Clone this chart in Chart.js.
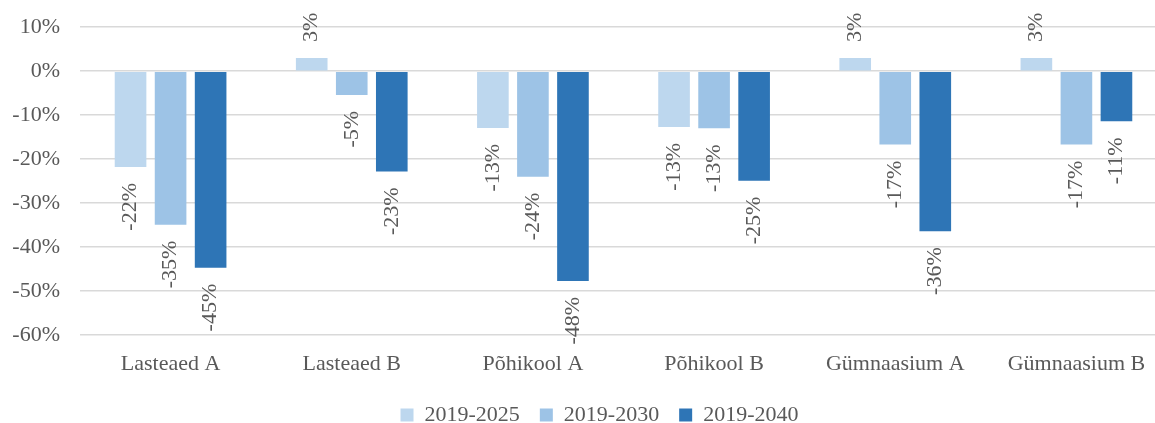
<!DOCTYPE html>
<html>
<head>
<meta charset="utf-8">
<script src="https://cdn.jsdelivr.net/npm/chart.js@4.4.1/dist/chart.umd.min.js"></script>
<style>
  html, body { margin: 0; padding: 0; overflow: hidden; background: #ffffff; }
  #wrap { width: 1155px; height: 423px; overflow: hidden; position: relative; }
  #c { position: absolute; left: 0; top: -6px; }
</style>
</head>
<body>
<div id="wrap"><canvas id="c" width="1167" height="442"></canvas></div>
<script>
const categories = ['Lasteaed A', 'Lasteaed B', 'Põhikool A', 'Põhikool B', 'Gümnaasium A', 'Gümnaasium B'];
const seriesNames = ['2019-2025', '2019-2030', '2019-2040'];
const v2025 = [-21.8, 2.97, -12.9, -12.7, 3.0, 3.0];
const v2030 = [-34.9, -5.4, -24.0, -13.0, -16.7, -16.7];
const v2040 = [-44.7, -22.8, -47.7, -24.9, -36.4, -11.4];
const yTicks = [10, 0, -10, -20, -30, -40, -50, -60];

const FONT = "'Liberation Serif', 'Times New Roman', serif";
const TXT = '#595959';
const colors = ['#BDD7EE', '#9DC3E6', '#2E75B6'];
const seriesValues = [v2025, v2030, v2040];

const dataLabels = {
  id: 'dataLabels',
  afterDatasetsDraw(chart) {
    const ctx = chart.ctx;
    ctx.save();
    ctx.font = '22px ' + FONT;
    ctx.fillStyle = TXT;
    ctx.textBaseline = 'middle';
    chart.data.datasets.forEach((ds, di) => {
      const meta = chart.getDatasetMeta(di);
      meta.data.forEach((el, i) => {
        const v = ds.data[i];
        const txt = Math.round(v) + '%';
        ctx.save();
        if (v < 0) {
          ctx.translate(el.x, el.y + 16);
          ctx.rotate(-Math.PI / 2);
          ctx.textAlign = 'right';
        } else {
          ctx.translate(el.x, el.y - 16);
          ctx.rotate(-Math.PI / 2);
          ctx.textAlign = 'left';
        }
        ctx.fillText(txt, 0, 0);
        ctx.restore();
      });
    });
    ctx.restore();
  }
};

const legendShift = {
  id: 'legendShift',
  afterLayout(chart) {
    if (chart.legend) {
      chart.legend.left += 16;
      chart.legend.right += 16;
    }
  }
};

new Chart(document.getElementById('c'), {
  type: 'bar',
  data: {
    labels: categories,
    datasets: seriesNames.map((name, k) => ({
      label: name,
      data: seriesValues[k],
      backgroundColor: colors[k],
      borderWidth: 0,
      borderSkipped: false,
      categoryPercentage: 0.663,
      barPercentage: 0.79
    }))
  },
  options: {
    responsive: false,
    animation: false,
    devicePixelRatio: 1,
    layout: { padding: { top: 22, left: 0, right: 0, bottom: 0 } },
    plugins: {
      tooltip: { enabled: false },
      legend: {
        position: 'bottom',
        labels: {
          color: TXT,
          font: { family: FONT, size: 22 },
          boxWidth: 13,
          boxHeight: 13,
          padding: 20
        }
      }
    },
    scales: {
      x: {
        grid: { display: false, drawTicks: false },
        border: { display: false },
        ticks: { color: TXT, font: { family: FONT, size: 22 }, padding: 16, maxRotation: 0 },
        afterFit(scale) { scale.height = 49; }
      },
      y: {
        min: -60,
        max: 10,
        afterBuildTicks(scale) { scale.ticks = yTicks.map(v => ({ value: v })); },
        grid: { color: '#D9D9D9', lineWidth: 1.5, drawTicks: false },
        border: { display: false },
        ticks: {
          color: TXT,
          font: { family: FONT, size: 22 },
          padding: 20,
          callback: v => v + '%'
        },
        afterFit(scale) { scale.width = 80; }
      }
    }
  },
  plugins: [dataLabels, legendShift]
});
</script>
</body>
</html>
